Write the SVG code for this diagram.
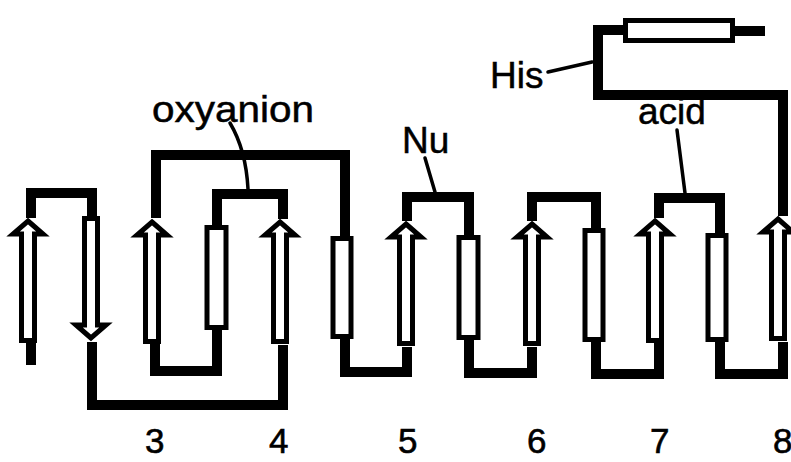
<svg xmlns="http://www.w3.org/2000/svg" xmlns:xlink="http://www.w3.org/1999/xlink" width="791" height="462" viewBox="0 0 791 462">
  <style>
    .strand { fill: #fff; stroke: #000; stroke-width: 5; stroke-linejoin: miter; stroke-miterlimit: 10; }
    .loop { fill: none; stroke: #000; stroke-width: 10; stroke-linejoin: miter; stroke-linecap: butt; }
    .lead { fill: none; stroke: #000; stroke-width: 3.5; stroke-linecap: round; }
    .lbl { font-family: "Liberation Sans", Arial, Helvetica, sans-serif; font-size: 37px; fill: #000; stroke: #000; stroke-width: 0.5; }
    .num { font-family: "Liberation Sans", Arial, Helvetica, sans-serif; font-size: 35px; fill: #000; stroke: #000; stroke-width: 0.6; }
  </style>
  <defs>
    <!-- beta strand arrow, outer tip at origin, pointing up -->
    <path id="arrow" d="M0,4 L15,17 L6.5,17 L6.5,123.5 L-6.5,123.5 L-6.5,17 L-15,17 Z"/>
  </defs>
  <rect width="791" height="462" fill="#fff"/>

  <!-- loops and connections -->
  <g id="connectors">
    <path class="loop" d="M31,343 V365" stroke-width="9"/>
    <path class="loop" d="M31,218 V193 H92 V218"/>
    <path class="loop" d="M92,342 V405 H283 V345"/>
    <path class="loop" d="M156,218 V155 H345 V237"/>
    <path class="loop" d="M155,343 V371 H217 V330"/>
    <path class="loop" d="M217,226 V194 H283 V219"/>
    <path class="loop" d="M345,338 V372 H407 V347"/>
    <path class="loop" d="M407,221 V197 H469 V236"/>
    <path class="loop" d="M469,339 V373 H532 V347"/>
    <path class="loop" d="M532,221 V197 H596 V229"/>
    <path class="loop" d="M596,341 V374 H659 V342"/>
    <path class="loop" d="M659,218 V198 H720 V234"/>
    <path class="loop" d="M720,341 V374 H783 V342"/>
    <path class="loop" d="M783,216 V95 H598 V30 H626"/>
    <path class="loop" d="M733,31 H765" stroke-width="8"/>
    <path class="lead" d="M230,123 Q246,150 248,189"/>
    <path class="lead" d="M425,158 L435,192"/>
    <path class="lead" d="M677,130 L685,193"/>
    <path class="lead" d="M548,72 L592,62"/>
  </g>

  <!-- strands -->
  <g id="s1"><use xlink:href="#arrow" class="strand" x="28" y="217"/></g>
  <g id="s2"><use xlink:href="#arrow" class="strand" transform="translate(91,342) rotate(180)"/></g>
  <g id="s3"><use xlink:href="#arrow" class="strand" x="152" y="218"/></g>
  <g id="s3b"><rect class="strand" x="207" y="227.5" width="19" height="100"/></g>
  <g id="s4"><use xlink:href="#arrow" class="strand" x="280" y="218"/></g>
  <g id="s4b"><rect class="strand" x="333" y="238.5" width="18" height="98"/></g>
  <g id="s5"><use xlink:href="#arrow" class="strand" x="406" y="220"/></g>
  <g id="s5b"><rect class="strand" x="459" y="237.5" width="19" height="100"/></g>
  <g id="s6"><use xlink:href="#arrow" class="strand" x="532" y="220"/></g>
  <g id="s6b"><rect class="strand" x="585" y="230.5" width="18" height="109"/></g>
  <g id="s7"><use xlink:href="#arrow" class="strand" x="655" y="217"/></g>
  <g id="s7b"><rect class="strand" x="708" y="235.5" width="18" height="104"/></g>
  <g id="s8"><use xlink:href="#arrow" class="strand" x="778" y="215"/></g>
  <g id="helix"><rect class="strand" x="625.5" y="20.5" width="107" height="20"/></g>

  <!-- labels -->
  <g id="labels">
    <text class="lbl" x="152" y="122" textLength="162" lengthAdjust="spacingAndGlyphs">oxyanion</text>
    <text class="lbl" x="402" y="153">Nu</text>
    <text class="lbl" x="638" y="124">acid</text>
    <text class="lbl" x="490" y="88">His</text>
    <text class="num" x="145" y="453">3</text>
    <text class="num" x="269" y="453">4</text>
    <text class="num" x="398" y="453">5</text>
    <text class="num" x="527" y="453">6</text>
    <text class="num" x="650" y="453">7</text>
    <text class="num" x="773" y="453">8</text>
  </g>
</svg>
